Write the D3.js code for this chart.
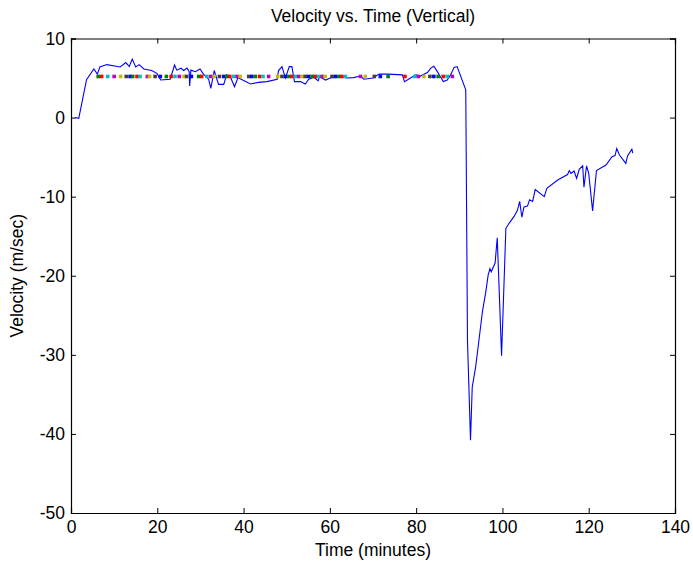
<!DOCTYPE html>
<html>
<head>
<meta charset="utf-8">
<script src="https://cdn.jsdelivr.net/npm/d3@7"></script>
<style>
  body { margin: 0; background: #fff; }
  text { font-family: "Liberation Sans", Arial, Helvetica, sans-serif; }
</style>
</head>
<body>
<div id="chart"></div>
<script>
// blue velocity trace
let times = [1, 1.8, 3.6, 5.3, 6.1, 6.7, 8.3, 11.4, 12.7, 13.5, 14.2, 15.0, 15.8, 16.9, 18.7, 19.9, 20.8, 23.0,
  24.0, 24.5, 25.5, 26.1, 26.9, 27.4, 27.5, 27.8, 28.8, 29.9, 30.7, 31.9, 32.4, 33.2, 34.2, 35.4, 36.1, 36.9,
  37.9, 38.7, 39.2, 41.6, 43.5, 45.4, 47.8, 48.1, 48.9, 49.7, 50.6, 51.2, 51.8, 53.2, 54.3, 55.1, 56.3, 57.3,
  57.6, 59.0, 60.1, 62.1, 64.0, 65.5, 67.1, 67.9, 70.0, 71.4, 73.3, 76.8, 77.3, 78.7, 79.9, 81.0, 82.6, 83.4,
  84.1, 84.7, 86.3, 87.2, 88.0, 88.8, 89.5, 91.5, 91.9, 92.6, 93.0, 93.8, 95.4, 96.1, 96.7, 97.1, 97.4, 98.3,
  98.8, 99.8, 100.8, 101.5, 102.7, 103.5, 104.0, 104.5, 105.0, 105.8, 106.3, 107.0, 107.6, 109.7, 110.3,
  112.8, 115.1, 115.5, 115.9, 116.6, 117.2, 117.8, 118.6, 118.9, 119.5, 120.0, 120.9, 121.8, 124.0, 125.4,
  126.1, 126.5, 127.1, 128.6, 129.0, 130.0, 130.2]
let velocity = [0, -0.1, 4.8, 6.15, 5.5, 6.4, 6.7, 6.4, 6.95, 6.45, 7.4, 6.4, 6.7, 6.15, 5.95, 5.6, 4.75, 4.85,
  6.65, 6.0, 6.25, 5.95, 6.25, 5.8, 4.0, 6.0, 5.8, 6.15, 5.5, 4.85, 3.7, 5.95, 4.2, 4.2, 5.4, 5.2,
  3.9, 5.05, 4.9, 4.25, 4.45, 4.55, 4.85, 5.95, 6.45, 5.0, 6.45, 6.45, 4.55, 4.55, 4.25, 4.85, 5.1, 4.65,
  5.2, 4.75, 5.0, 5.2, 5.0, 5.05, 5.25, 4.85, 5.0, 5.5, 5.5, 5.4, 4.55, 5.0, 5.4, 5.25, 5.7, 6.25,
  6.5, 6.0, 4.55, 4.75, 5.4, 6.35, 6.45, 3.5, -28.2, -40.8, -34.1, -31.5, -24.4, -22.2, -19.9, -19.1, -19.5, -18.4,
  -15.2, -30.1, -14.0, -13.4, -12.5, -11.7, -10.6, -12.6, -11.3, -11.2, -10.4, -10.6, -9.1, -10.0, -8.95,
  -7.9, -7.2, -6.7, -7.05, -6.75, -7.7, -6.55, -6.1, -8.8, -6.1, -7.05, -11.8, -6.7, -6.0, -4.95,
  -4.8, -3.9, -4.7, -5.8, -4.85, -4.0, -4.5]

// dotted markers along the cruise level
let dotTimes = [6.3, 7.1, 8.5, 10.0, 11.5, 12.8, 13.7, 14.3, 15.3, 16.0, 17.7, 18.2, 19.5, 20.7, 22.1, 23.2,
  24.1, 25.1, 26.2, 26.8, 27.9, 29.6, 30.3, 31.5, 32.4, 33.2, 34.4, 35.4, 36.1, 36.8, 37.7, 38.5, 39.2,
  41.2, 41.9, 42.7, 43.7, 44.5, 45.8, 47.9, 48.9, 49.7, 50.5, 51.2, 52.0, 52.8, 53.6, 54.3, 55.1, 55.9,
  56.6, 57.4, 58.2, 58.9, 60.5, 61.3, 62.1, 62.8, 63.6, 67.1, 68.2, 70.3, 71.7, 73.5, 77.4, 79.7, 80.5,
  81.8, 83.2, 84.1, 85.1, 86.3, 87.2, 88.4]
let dotValue = 5.2
let dotColors = ['#0000ff', '#008000', '#ff0000', '#00bfbf', '#bf00bf', '#bfbf00', '#404040']

let xTicks = [0, 20, 40, 60, 80, 100, 120, 140]
let yTicks = [10, 0, -10, -20, -30, -40, -50]

let margin = { top: 38.5, right: 18, bottom: 50, left: 71 }
let width = 693 - margin.left - margin.right
let height = 563 - margin.top - margin.bottom

let svg = d3.select('#chart')
  .append('svg')
  .attr('width', 693)
  .attr('height', 563)

let g = svg.append('g')
  .attr('transform', `translate(${margin.left}, ${margin.top})`)

let x = d3.scaleLinear().domain([0, 140]).range([0, width])
let y = d3.scaleLinear().domain([-50, 10]).range([height, 0])

// clip so nothing pokes past the box
g.append('clipPath').attr('id', 'clip')
  .append('rect').attr('width', width).attr('height', height)

let line = d3.line()
  .x((d, i) => x(times[i]))
  .y(d => y(d))

g.append('path')
  .datum(velocity)
  .attr('clip-path', 'url(#clip)')
  .attr('d', line)
  .attr('fill', 'none')
  .attr('stroke', '#0000ff')
  .attr('stroke-width', 1.1)

g.append('g')
  .selectAll('rect')
  .data(dotTimes)
  .enter()
  .append('rect')
  .attr('x', d => x(d) - 1.8)
  .attr('y', y(dotValue) - 1.8)
  .attr('width', 3.6)
  .attr('height', 3.6)
  .attr('fill', (d, i) => dotColors[(i + 1) % dotColors.length])

// axes: matlab style, ticks pointing inward on all four sides
let tickLen = 5
let fontSize = '17.5px'
// plain hyphen for negatives, like the original
let fmt = d => String(d)

g.append('g')
  .attr('transform', `translate(0, ${height})`)
  .call(d3.axisBottom(x).tickValues(xTicks).tickSize(-tickLen).tickPadding(8).tickFormat(fmt))
g.append('g')
  .call(d3.axisTop(x).tickValues(xTicks).tickSize(-tickLen).tickFormat(''))
g.append('g')
  .call(d3.axisLeft(y).tickValues(yTicks).tickSize(-tickLen).tickPadding(6).tickFormat(fmt))
g.append('g')
  .attr('transform', `translate(${width}, 0)`)
  .call(d3.axisRight(y).tickValues(yTicks).tickSize(-tickLen).tickFormat(''))

g.selectAll('.domain').attr('stroke', '#000').attr('stroke-width', 1.2)
g.selectAll('.tick line').attr('stroke', '#000')
g.selectAll('.tick text')
  .attr('fill', '#000')
  .style('font-size', fontSize)
  .style('font-family', '"Liberation Sans", Arial, sans-serif')

// title and labels
svg.append('text')
  .attr('x', margin.left + width / 2)
  .attr('y', 22)
  .attr('text-anchor', 'middle')
  .style('font-size', fontSize)
  .text('Velocity vs. Time (Vertical)')

svg.append('text')
  .attr('x', margin.left + width / 2)
  .attr('y', 556)
  .attr('text-anchor', 'middle')
  .style('font-size', fontSize)
  .text('Time (minutes)')

svg.append('text')
  .attr('transform', `translate(23, ${margin.top + height / 2}) rotate(-90)`)
  .attr('text-anchor', 'middle')
  .style('font-size', fontSize)
  .text('Velocity (m/sec)')
</script>
</body>
</html>
